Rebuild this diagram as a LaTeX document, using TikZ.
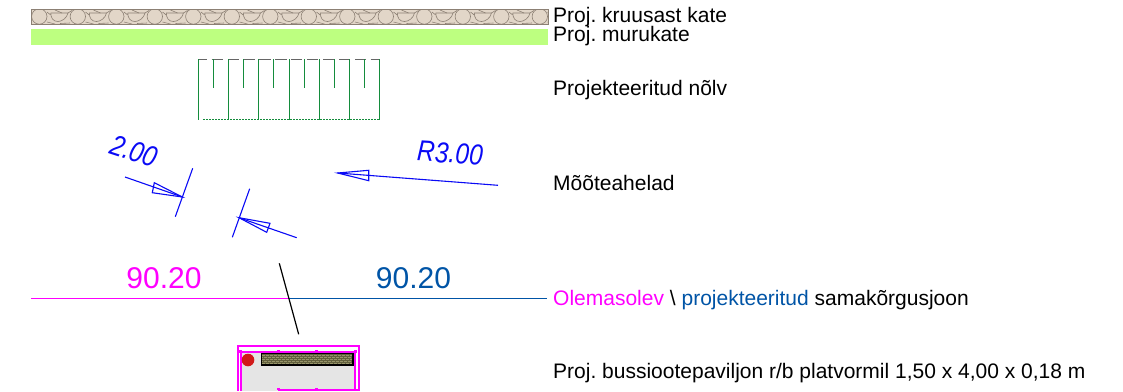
\documentclass[tikz,border=0pt]{standalone}
\usepackage{fontspec}
\setmainfont{Liberation Sans}
\definecolor{mag}{RGB}{255,0,255}
\definecolor{pblue}{RGB}{0,84,166}
\definecolor{dimblue}{RGB}{10,10,245}
\definecolor{slope}{RGB}{20,140,60}
\definecolor{gravel}{RGB}{226,214,200}
\definecolor{gravelline}{RGB}{140,128,116}
\definecolor{lime}{RGB}{189,255,128}
\definecolor{brick}{RGB}{98,96,62}
\definecolor{brickline}{RGB}{150,148,105}
\tikzset{
  lbl/.style={anchor=base west,inner sep=0pt,font=\fontsize{21}{23}\selectfont},
  lvl/.style={anchor=center,inner sep=0pt,font=\fontsize{30}{32}\selectfont},
  dimtxt/.style={anchor=center,inner sep=0pt,text=dimblue,font=\fontsize{29}{31}\selectfont\itshape},
  dimln/.style={draw=dimblue,line width=1.1pt},
  stone/.style={draw=gravelline,line width=0.6pt},
  slopeln/.style={draw=slope,line width=1.5pt},
}
\begin{document}
\frenchspacing
\begin{tikzpicture}[x=1pt,y=-1pt]
\useasboundingbox (0,0) rectangle (1123,391);
% gravel band
\fill[gravel] (31,9.5) rectangle (548,24);
\begin{scope}
\clip (31,9.5) rectangle (548,24);
\foreach \i in {0,...,13}{
  \begin{scope}[shift={(\i*38.5,0)}]
    \draw[stone] (39.3,16.5) circle (7.7);
    \draw[stone] (50.7,13) -- (68,13) .. controls (67,18) and (62,21.5) .. (58,21.5) .. controls (53,21.5) and (51,18) .. (50.7,13);
    \draw[stone] (47,12) -- (50.7,15) (47,22) -- (55,24) (60,23.5) -- (70,23) (68,13) -- (72,10.5) (55,10) -- (62,13);
  \end{scope}
}
\end{scope}
\draw[gravelline,line width=1pt] (31,9.5) rectangle (548,24);
% crushed stone band
\fill[lime] (31,29) rectangle (548,45);
% slope
\foreach \a/\b in {198.3/207,211.7/223.3,228.3/239,243.3/255,258.3/271,275/287,291/302.3,307/318.3,323/334.3,339/350.3,355/366,370.7/380}
  \draw[draw=black!60,line width=1.4pt] (\a,59.5) -- (\b,59.5);
\foreach \x in {198.5,228.5,258.5,289.5,319.5,349.5,379.5}
  \draw[slopeln] (\x,59) -- (\x,119.5);
\foreach \x in {213.5,243.5,273.5,304.5,334.5,364.5}
  \draw[slopeln] (\x,59) -- (\x,88);
\draw[slope,line width=1.3pt,dash pattern=on 1.5pt off 1.5pt] (203,119.5) -- (379,119.5);
% dimensions
\node[dimtxt,rotate=-18] (d1) at (134,151) {\scalebox{0.85}[1]{2.00}};
\node[dimtxt,rotate=-3.5] (d2) at (450,153) {\scalebox{0.85}[1]{R3.00}};
\draw[dimln] (192.7,168.3) -- (175.3,216.7);
\draw[dimln] (125,177) -- (182.3,197);
\draw[dimln,line join=miter] (182.3,197) -- (154.3,182.7) -- (152.3,192.7) -- cycle;
\draw[dimln] (249.7,188.7) -- (232.3,237.3);
\draw[dimln] (296.7,237.7) -- (239,217.7);
\draw[dimln] (239,217.7) -- (270,223.3) -- (266.7,232.3) -- cycle;
\draw[dimln] (498,185.3) -- (337.7,173);
\draw[dimln] (337.7,173) -- (368.7,170.3) -- (368.7,180.7) -- cycle;
% level line
\coordinate (l0) at (31,298.7);
\coordinate (lm) at (289,298.7);
\coordinate (l1) at (547,298.7);
\draw[mag,line width=1.4pt] (l0) -- (lm);
\draw[pblue,line width=1.4pt] (lm) -- (l1);
\draw[black,line width=1.2pt] (279.3,263.3) -- (298.7,334.3);
\node[lvl,text=mag] (v1) at (164,278) {90.20};
\node[lvl,text=pblue] (v2) at (413.5,278) {90.20};
% pavilion
\fill[black!10] (240.7,352.3) rectangle (355.7,391);
\draw[mag,line width=2pt] (237.7,391) -- (237.7,346) -- (358.5,346) -- (358.5,391);
\draw[mag,line width=1.8pt] (241,391) -- (241,352.3) -- (355.2,352.3) -- (355.2,389.7);
\draw[mag,line width=2pt] (277.5,389.7) -- (358.5,389.7);
\foreach \x in {240.5,278.7,316.7,355}
  \fill[mag] (\x-1.5,350) rectangle (\x+1.5,353);
\foreach \x in {278.7,316.7}
  \fill[mag] (\x-1.5,388) rectangle (\x+1.5,390);
\fill[red!80!black!90!white] (248,360) circle (6.3);
\fill[brick] (261.7,353.3) rectangle (353,365);
\begin{scope}
\clip (261.7,353.3) rectangle (353,365);
\foreach \y/\o in {355/0,357/2,359/0,361/2,363/0}
  \draw[brickline,line width=0.8pt,dash pattern=on 3pt off 1pt,dash phase=\o pt] (261.7,\y) -- (353,\y);
\end{scope}
\draw[black,line width=1.2pt] (261.7,353.3) rectangle (353,365);
% labels
\node[lbl] (t1) at (553,22) {Proj. kruusast kate};
\node[lbl] (t2) at (553,41.5) {Proj. murukate};
\node[lbl] (t3) at (553,95) {Projekteeritud nõlv};
\node[lbl] (t4) at (553,190) {Mõõteahelad};
\node[lbl] (t5) at (553,305) {\textcolor{mag}{Olemasolev} \textbackslash{} \textcolor{pblue}{projekteeritud} samakõrgusjoon};
\node[lbl] (t6) at (553,378) {Proj. bussiootepaviljon r/b platvormil 1,50 x 4,00 x 0,18 m};
\end{tikzpicture}
\end{document}
